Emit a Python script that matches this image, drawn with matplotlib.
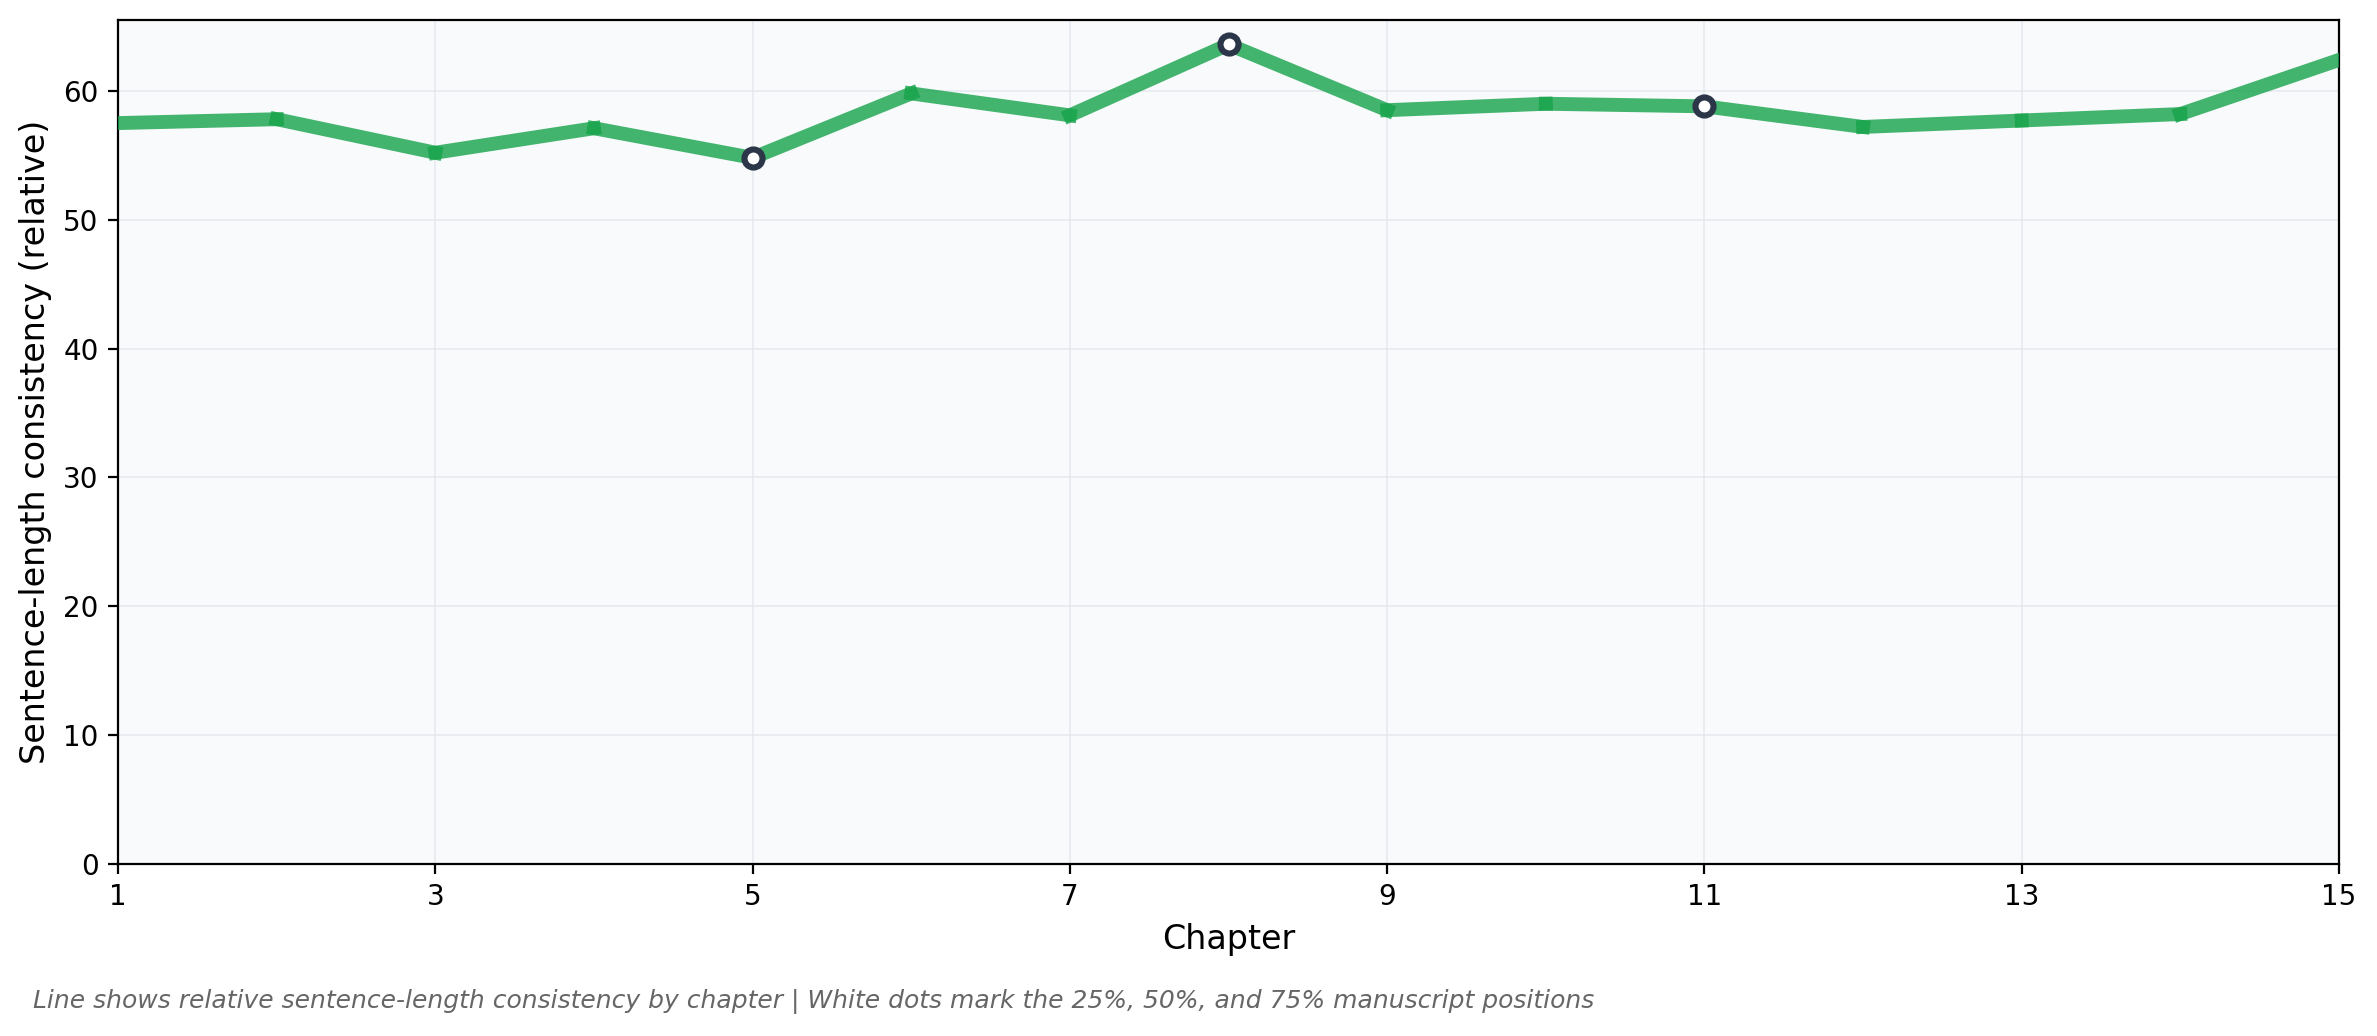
import matplotlib
matplotlib.use("Agg")
import matplotlib.pyplot as plt

chapters = [1, 2, 3, 4, 5, 6, 7, 8, 9, 10, 11, 12, 13, 14, 15]
consistency = [57.5, 57.8, 55.2, 57.1, 54.8, 59.8, 58.1, 63.6, 58.5, 59.0, 58.8, 57.2, 57.7, 58.2, 62.4]
marker_chapters = [5, 8, 11]
xtick_vals = [1, 3, 5, 7, 9, 11, 13, 15]

line_color = "#16a34a"
dot_edge = "#2b3648"

fig = plt.figure(figsize=(11.885, 5.18), dpi=200)
ax = fig.add_axes([0.0497, 0.166, 0.9343, 0.8147])
ax.set_facecolor("#f8fafc")

# each segment drawn separately, so the joints overlap a bit darker
for i in range(len(chapters) - 1):
    ax.plot(chapters[i:i + 2], consistency[i:i + 2], color=line_color,
            lw=5, alpha=0.8, zorder=3)

mx = marker_chapters
my = [consistency[chapters.index(c)] for c in mx]
ax.plot(mx, my, linestyle="none", marker="o", markersize=6.5,
        markerfacecolor="white", markeredgecolor=dot_edge,
        markeredgewidth=2.2, zorder=4)

ax.set_xlim(1, 15)
ax.set_ylim(0, 65.5)
ax.set_xticks(xtick_vals)
ax.set_yticks(range(0, 61, 10))
ax.tick_params(labelsize=10)
ax.grid(True, color="#e2e5ea", lw=0.6, alpha=0.8)
ax.set_axisbelow(True)

ax.set_xlabel("Chapter", fontsize=12)
ax.set_ylabel("Sentence-length consistency (relative)", fontsize=12)

fig.text(0.014, 0.033,
         "Line shows relative sentence-length consistency by chapter | "
         "White dots mark the 25%, 50%, and 75% manuscript positions",
         fontsize=9, style="italic", color="#666666", va="center")

fig.savefig("out.png", dpi=200)
